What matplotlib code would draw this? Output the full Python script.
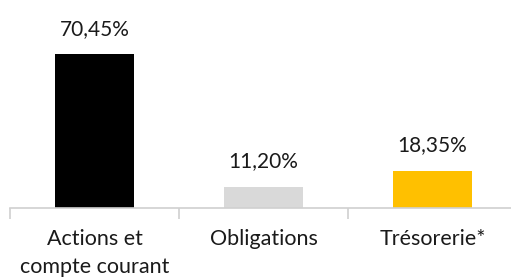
import matplotlib
matplotlib.use("Agg")
import matplotlib.pyplot as plt

categories = ["Actions et\ncompte courant", "Obligations", "Trésorerie*"]
values = [70.45, 11.20, 18.35]
labels = ["70,45%", "11,20%", "18,35%"]
colors = ["#000000", "#d9d9d9", "#ffc000"]

plt.rcParams["font.family"] = ["Lato", "DejaVu Sans"]

fig = plt.figure(figsize=(5.11, 2.8), dpi=100)
ax = fig.add_axes([10 / 511, 72 / 280, 507 / 511, 208 / 280])

x = range(len(categories))
ax.bar(x, values, width=0.47, color=colors, bottom=0)
ax.set_ylim(1.81, 94.8)
ax.set_xlim(-0.5, 2.5)

for xi, v, lab in zip(x, values, labels):
    ax.text(xi, v + 11.5, lab, ha="center", va="center", fontsize=15, color="#1a1a1a")

for s in ["top", "right", "left"]:
    ax.spines[s].set_visible(False)
ax.spines["bottom"].set_color("#d0d0d0")
ax.spines["bottom"].set_linewidth(1.2)
ax.set_yticks([])
ax.set_xticks([-0.5, 0.5, 1.5, 2.5], minor=True)
ax.tick_params(axis="x", which="minor", length=8, color="#d0d0d0", width=1.2)
ax.set_xticks(list(x))
ax.set_xticklabels(categories, fontsize=15.5, color="#1a1a1a", linespacing=1.5)
ax.tick_params(axis="x", which="major", length=0, pad=15)

fig.savefig("out.png", dpi=100)
